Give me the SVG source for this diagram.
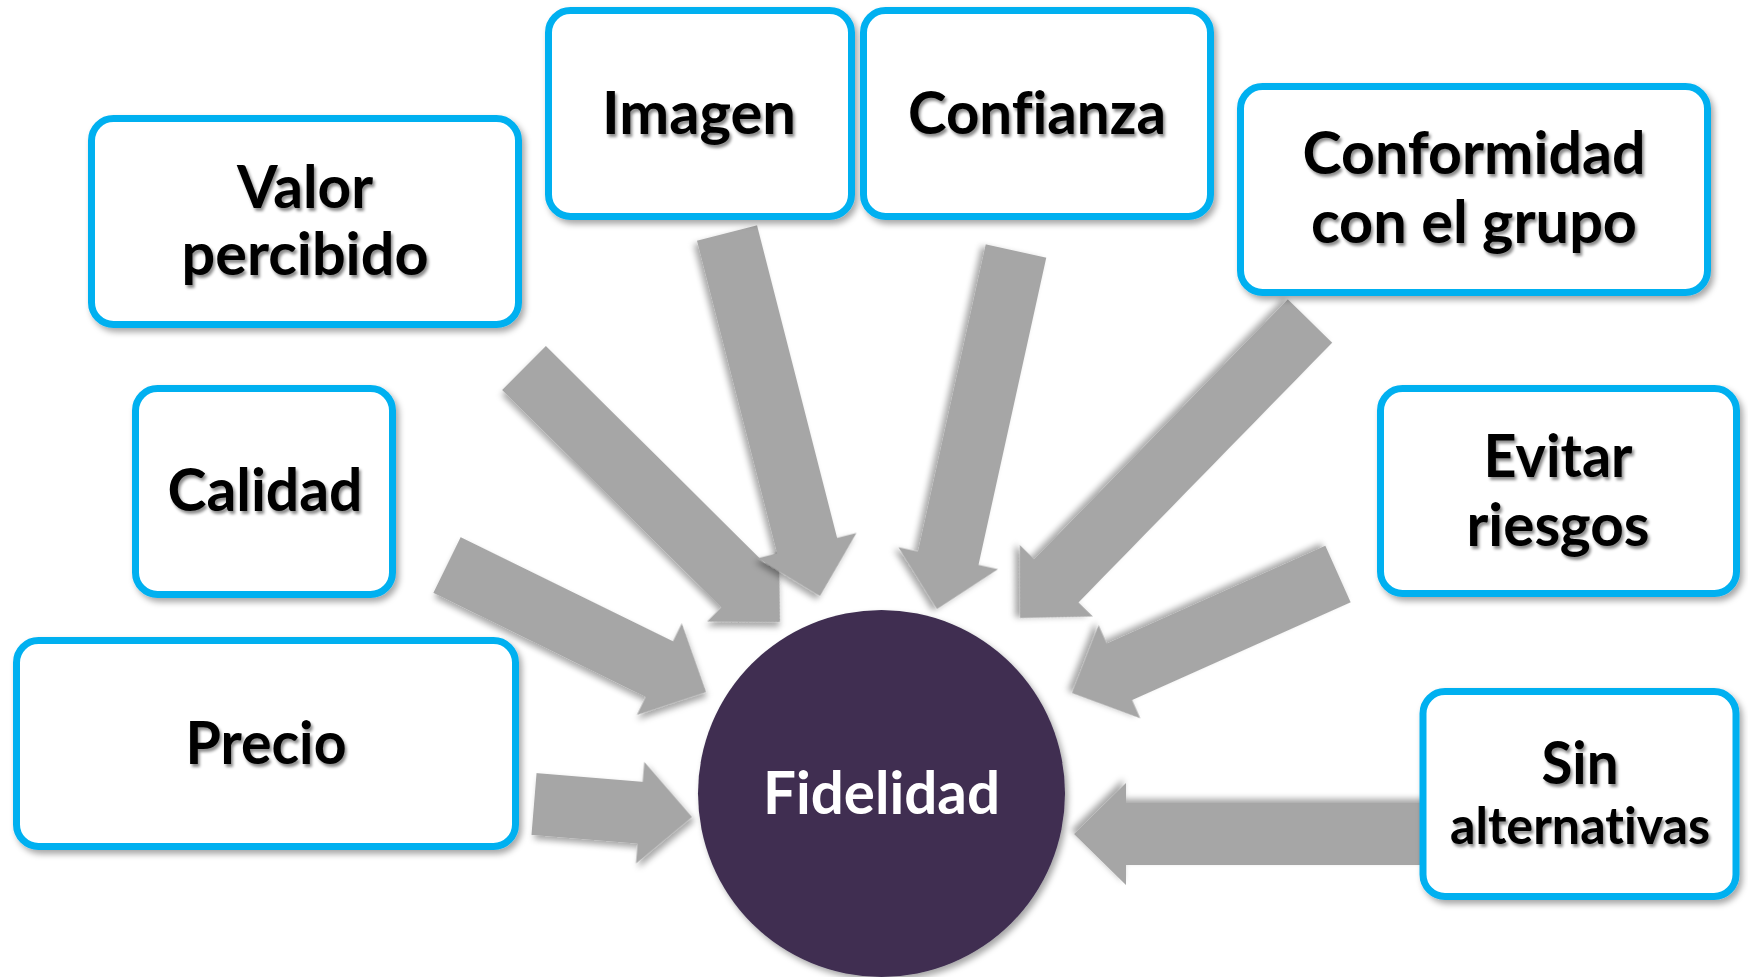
<svg xmlns="http://www.w3.org/2000/svg" width="1748" height="977" viewBox="0 0 1748 977">
<defs>
<filter id="sh" x="-20%" y="-20%" width="140%" height="140%">
<feDropShadow dx="3" dy="4" stdDeviation="3" flood-color="#000" flood-opacity="0.35"/>
</filter>
<filter id="tsh" x="-10%" y="-20%" width="120%" height="150%">
<feDropShadow dx="2" dy="3" stdDeviation="1.6" flood-color="#000" flood-opacity="0.45"/>
</filter>
<style>
.arrow{fill:#A6A6A6;filter:url(#sh)}
.box{fill:#FFFFFF;stroke:#00B0F0;stroke-width:7;filter:url(#sh)}
.lbl{font-family:"Lato","Liberation Sans",sans-serif;font-weight:700;font-size:60px;fill:#000;text-anchor:middle;filter:url(#tsh);font-variant-ligatures:none}
.small{font-size:51px}
.center{font-family:"Lato","Liberation Sans",sans-serif;font-weight:700;font-size:60px;fill:#FFFFFF;text-anchor:middle;font-variant-ligatures:none}
</style>
</defs>
<rect width="1748" height="977" fill="#FFFFFF"/>
<g id="connectors">
<path class="arrow" transform="translate(534,804) rotate(4.70)" d="M0,-31 H106.5 V-51 L158.5,0 L106.5,51 V31 H0 Z"/>
<path class="arrow" transform="translate(447,565) rotate(26.12)" d="M0,-31 H236.5 V-51 L288.5,0 L236.5,51 V31 H0 Z"/>
<path class="arrow" transform="translate(524,368) rotate(44.78)" d="M0,-31 H308.6 V-51 L360.6,0 L308.6,51 V31 H0 Z"/>
<path class="arrow" transform="translate(727,233) rotate(75.63)" d="M0,-31 H322.7 V-51 L374.7,0 L322.7,51 V31 H0 Z"/>
<path class="arrow" transform="translate(1016,251) rotate(102.44)" d="M0,-31 H314.6 V-51 L366.6,0 L314.6,51 V31 H0 Z"/>
<path class="arrow" transform="translate(1310,321) rotate(134.32)" d="M0,-31 H363.1 V-51 L415.1,0 L363.1,51 V31 H0 Z"/>
<path class="arrow" transform="translate(1338,574) rotate(155.90)" d="M0,-31 H239.4 V-51 L291.4,0 L239.4,51 V31 H0 Z"/>
<path class="arrow" transform="translate(1440,834) rotate(180)" d="M0,-31 H314 V-51 L366,0 L314,51 V31 H0 Z"/>
</g>
<g id="node-valor">
<rect class="box" x="91.5" y="118.5" width="427" height="206" rx="22"/>
<text class="lbl" x="305" y="208" textLength="136" lengthAdjust="spacingAndGlyphs">Valor</text>
<text class="lbl" x="305" y="275" textLength="247" lengthAdjust="spacingAndGlyphs">percibido</text>
</g>
<g id="node-imagen">
<rect class="box" x="548.5" y="10.5" width="303" height="206" rx="22"/>
<text class="lbl" x="699" y="134" textLength="194" lengthAdjust="spacingAndGlyphs">Imagen</text>
</g>
<g id="node-confianza">
<rect class="box" x="863.5" y="10.5" width="347" height="206" rx="22"/>
<text class="lbl" x="1037" y="134" textLength="258" lengthAdjust="spacingAndGlyphs">Confianza</text>
</g>
<g id="node-conformidad">
<rect class="box" x="1240.5" y="86.5" width="467" height="206" rx="22"/>
<text class="lbl" x="1474" y="174" textLength="343" lengthAdjust="spacingAndGlyphs">Conformidad</text>
<text class="lbl" x="1474" y="243" textLength="326" lengthAdjust="spacingAndGlyphs">con el grupo</text>
</g>
<g id="node-calidad">
<rect class="box" x="135.5" y="388.5" width="257" height="206" rx="22"/>
<text class="lbl" x="265" y="511" textLength="195" lengthAdjust="spacingAndGlyphs">Calidad</text>
</g>
<g id="node-evitar">
<rect class="box" x="1380.5" y="388.5" width="356" height="205" rx="22"/>
<text class="lbl" x="1558" y="477" textLength="149" lengthAdjust="spacingAndGlyphs">Evitar</text>
<text class="lbl" x="1558" y="546" textLength="183" lengthAdjust="spacingAndGlyphs">riesgos</text>
</g>
<g id="node-precio">
<rect class="box" x="16.5" y="640.5" width="499" height="206" rx="22"/>
<text class="lbl" x="266" y="764" textLength="161" lengthAdjust="spacingAndGlyphs">Precio</text>
</g>
<g id="node-sin">
<rect class="box" x="1423" y="691.5" width="313" height="205" rx="22"/>
<text class="lbl" x="1580" y="784" textLength="77" lengthAdjust="spacingAndGlyphs">Sin</text>
<text class="lbl small" x="1580" y="844" textLength="260" lengthAdjust="spacingAndGlyphs">alternativas</text>
</g>
<g id="node-fidelidad">
<circle cx="881.5" cy="793.5" r="183.5" fill="#3F2F51" filter="url(#sh)"/>
<text class="center" x="881.5" y="814" textLength="237" lengthAdjust="spacingAndGlyphs">Fidelidad</text>
</g>
</svg>
